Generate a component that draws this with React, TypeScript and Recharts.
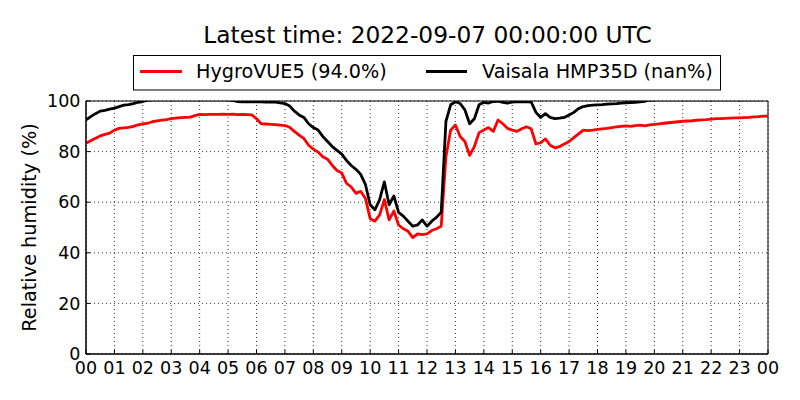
import React from "react";
import { LineChart, Line, XAxis, YAxis, CartesianGrid, ReferenceArea, Label } from "recharts";

// Relative humidity readings every 10 minutes, 00:00 -> 24:00 (145 values)
const hygroVUE5: (number | null)[] = [
  83.3, 84.3, 85.3, 86.2, 86.8, 87.3,
  88.5, 89.2, 89.4, 89.6, 90.0, 90.6,
  91.0, 91.2, 91.8, 92.1, 92.4, 92.6,
  93.0, 93.2, 93.4, 93.5, 93.6, 94.2,
  94.7, 94.6, 94.7, 94.7, 94.7, 94.8,
  94.7, 94.8, 94.6, 94.7, 94.6, 94.5,
  93.0, 91.0, 90.9, 90.8, 90.7, 90.5,
  90.3, 89.6, 88.0, 86.5, 85.2, 82.5,
  81.0, 79.8, 78.0, 77.0, 74.5, 72.5,
  71.5, 67.5, 66.0, 63.5, 64.3, 61.5,
  53.5, 52.5, 55.0, 61.0, 53.0, 56.5,
  51.0, 49.5, 48.5, 46.0, 47.5, 47.2,
  47.5, 48.8, 49.5, 50.5, 78.0, 88.5,
  90.5, 86.0, 84.0, 78.5, 82.0, 87.5,
  88.5, 89.5, 88.0, 92.5, 91.0, 89.2,
  88.5, 88.0, 89.0, 89.8, 89.0, 83.0,
  83.5, 85.0, 82.5, 81.5, 82.0, 83.0,
  84.0, 85.5, 87.0, 88.5, 88.3, 88.5,
  88.8, 89.0, 89.2, 89.5, 89.8, 90.0,
  90.2, 90.0, 90.3, 90.5, 90.2, 90.6,
  90.8, 91.0, 91.2, 91.4, 91.6, 91.8,
  92.0, 92.1, 92.2, 92.4, 92.5, 92.6,
  92.8, 93.0, 93.0, 93.1, 93.2, 93.3,
  93.3, 93.4, 93.5, 93.7, 93.8, 94.0,
  94.0,
];

const vaisalaHMP35D: (number | null)[] = [
  92.5, 93.8, 95.0, 96.0, 96.3, 96.8,
  97.2, 97.8, 98.4, 98.6, 99.0, 99.5,
  99.8, 100.3, 100.5, 100.5, 100.5, 100.5,
  100.5, 100.5, 100.5, 100.5, 100.5, 100.5,
  100.5, 100.5, 100.5, 100.5, 100.5, 100.5,
  100.5, 100.2, 99.8, 99.7, 99.7, 99.8,
  99.7, 99.7, 99.6, 99.7, 99.6, 99.3,
  99.0, 98.0, 96.0, 94.5, 93.5, 91.0,
  89.5, 88.5, 86.0, 84.0, 82.0, 80.5,
  79.0, 76.5, 74.5, 73.0, 71.0, 67.0,
  59.0, 57.0, 61.0, 68.0, 59.0, 62.5,
  56.0, 54.5, 52.5, 50.5, 51.0, 53.0,
  50.5, 52.5, 54.0, 56.0, 92.0, 98.5,
  99.7, 99.0, 96.5, 91.0, 93.0, 98.5,
  99.5, 99.2, 99.8, 99.9, 99.5, 99.2,
  99.6, 99.8, 99.7, 99.8, 99.6, 95.5,
  93.5, 95.0, 93.5, 93.0, 93.2, 93.5,
  94.5, 95.5, 97.0, 97.8, 98.2, 98.4,
  98.5, 98.6, 98.8, 98.9, 99.0, 99.2,
  99.3, 99.4, 99.5, 99.7, 99.9, 100.3,
  100.5, 100.5, 100.5, 100.5, 100.5, 100.5,
  100.5, 100.5, 100.5, 100.5, 100.5, 100.5,
  100.5, 100.5, 100.5, 100.5, 100.5, 100.5,
  100.5, 100.5, 100.5, 100.5, 100.5, 100.5,
  null,
];

const hourTicks = [0, 1, 2, 3, 4, 5, 6, 7, 8, 9, 10, 11, 12, 13, 14, 15, 16, 17, 18, 19, 20, 21, 22, 23, 24];
const hourLabels = ["00", "01", "02", "03", "04", "05", "06", "07", "08", "09", "10", "11", "12", "13", "14", "15", "16", "17", "18", "19", "20", "21", "22", "23", "00"];
const rhTicks = [0, 20, 40, 60, 80, 100];

const titleText = "Latest time: 2022-09-07 00:00:00 UTC";
const seriesNames = ["HygroVUE5 (94.0%)", "Vaisala HMP35D (nan%)"];

const stepMinutes = 10;
const rows = hygroVUE5.map((v, i) => ({
  t: (i * stepMinutes) / 60,
  hygro: v,
  vaisala: vaisalaHMP35D[i],
}));

const FONT = "'DejaVu Sans', sans-serif";
const TICK_FONT = 17.5;
const X_MARGIN = 7.5;
const Y_MARGIN = 5.5;
const IN_TICK = 4;

const BottomTick = (props: any) => {
  const { x, y, payload } = props;
  const axisY = y - X_MARGIN;
  const label = hourLabels[hourTicks.indexOf(payload.value)];
  return (
    <g>
      <line x1={x} x2={x} y1={axisY} y2={axisY - IN_TICK} stroke="#000" strokeWidth={1} />
      <text x={x} y={y} dy="0.71em" textAnchor="middle" fontSize={TICK_FONT} fontFamily={FONT} fill="#000">
        {label}
      </text>
    </g>
  );
};

const LeftTick = (props: any) => {
  const { x, y, payload } = props;
  const axisX = x + Y_MARGIN;
  return (
    <g>
      <line x1={axisX} x2={axisX + IN_TICK} y1={y} y2={y} stroke="#000" strokeWidth={1} />
      <text x={x} y={y} dy="0.355em" textAnchor="end" fontSize={TICK_FONT} fontFamily={FONT} fill="#000">
        {payload.value}
      </text>
    </g>
  );
};

const NoLabel = () => <g />;

export default function App() {
  return (
    <div style={{ position: "absolute", left: 0, top: 0, width: 800, height: 400, background: "#fff", fontFamily: FONT }}>
      <svg width={800} height={100} style={{ position: "absolute", left: 0, top: 0 }}>
        <text x={427.5} y={42.7} textAnchor="middle" fontSize={23.3} fontFamily={FONT} fill="#000">
          {titleText}
        </text>
        <rect x={133.5} y={55.5} width={587} height={34.5} fill="#fff" stroke="#000" strokeWidth={1} />
        <line x1={140} x2={182} y1={71.5} y2={71.5} stroke="#ff0000" strokeWidth={2.8} />
        <text x={196} y={78.3} fontSize={19.2} fontFamily={FONT} fill="#000">{seriesNames[0]}</text>
        <line x1={426} x2={467} y1={71.5} y2={71.5} stroke="#000" strokeWidth={2.8} />
        <text x={482} y={78.3} fontSize={19.2} fontFamily={FONT} fill="#000">{seriesNames[1]}</text>
      </svg>
      <div style={{ position: "absolute", left: 0, top: 0 }}>
        <LineChart width={800} height={400} data={rows} margin={{ top: 101, right: 32, left: 0, bottom: 0 }}>
          <CartesianGrid stroke="#000" strokeWidth={0.8} strokeDasharray="1 3" />
          <XAxis
            dataKey="t"
            type="number"
            domain={[0, 24]}
            ticks={hourTicks}
            interval={0}
            height={46}
            tickLine={false}
            tickSize={0}
            tickMargin={X_MARGIN}
            axisLine={{ stroke: "#000", strokeWidth: 1 }}
            tick={<BottomTick />}
            allowDataOverflow
          />
          <XAxis
            xAxisId="top"
            orientation="top"
            dataKey="t"
            type="number"
            domain={[0, 24]}
            ticks={hourTicks}
            interval={0}
            height={0}
            mirror
            tickSize={IN_TICK}
            tickLine={{ stroke: "#000", strokeWidth: 1 }}
            axisLine={false}
            tick={<NoLabel />}
            allowDataOverflow
          />
          <YAxis
            type="number"
            domain={[0, 100]}
            ticks={rhTicks}
            interval={0}
            width={86}
            tickLine={false}
            tickSize={0}
            tickMargin={Y_MARGIN}
            axisLine={{ stroke: "#000", strokeWidth: 1 }}
            tick={<LeftTick />}
            allowDataOverflow
          >
            <Label
              content={(props: any) => {
                const vb = props.viewBox || { x: 0, y: 101, width: 86, height: 253 };
                const cx = vb.x + 36;
                const cy = vb.y + vb.height / 2;
                return (
                  <text
                    x={cx}
                    y={cy}
                    transform={`rotate(-90, ${cx}, ${cy})`}
                    textAnchor="middle"
                    fontSize={19.3}
                    fontFamily={FONT}
                    fill="#000"
                  >
                    Relative humidity (%)
                  </text>
                );
              }}
            />
          </YAxis>
          <YAxis
            yAxisId="right"
            orientation="right"
            type="number"
            domain={[0, 100]}
            ticks={rhTicks}
            interval={0}
            width={0}
            mirror
            tickSize={IN_TICK}
            tickLine={{ stroke: "#000", strokeWidth: 1 }}
            axisLine={false}
            tick={<NoLabel />}
            allowDataOverflow
          />
          <ReferenceArea x1={0} x2={24} y1={0} y2={100} fill="none" stroke="#000" strokeWidth={1} ifOverflow="visible" />
          <Line
            dataKey="hygro"
            stroke="#ff0000"
            strokeWidth={2.8}
            dot={false}
            activeDot={false}
            isAnimationActive={false}
            strokeLinejoin="round"
          />
          <Line
            dataKey="vaisala"
            stroke="#000"
            strokeWidth={2.8}
            dot={false}
            activeDot={false}
            isAnimationActive={false}
            strokeLinejoin="round"
          />
        </LineChart>
      </div>
    </div>
  );
}
